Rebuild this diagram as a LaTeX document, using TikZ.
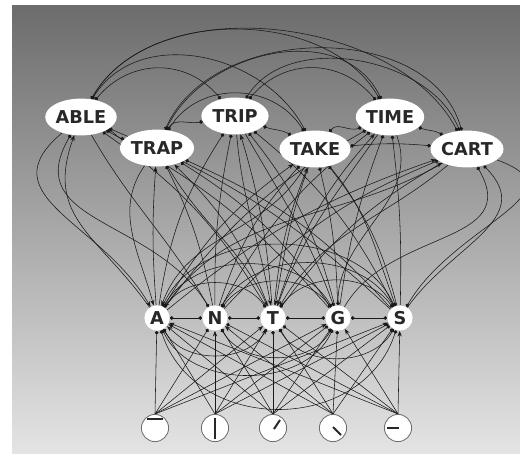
\documentclass[tikz,border=0pt]{standalone}
\usepackage{fontspec}
\setsansfont{DejaVu Sans}
\usetikzlibrary{arrows.meta,shapes.geometric}
\pgfdeclarelayer{back}
\pgfdeclarelayer{wires}
\pgfsetlayers{back,wires,main}
\definecolor{bg_top}{RGB}{108,108,108}
\definecolor{bg_bot}{RGB}{228,228,228}
\definecolor{edge_dark}{RGB}{25,25,25}
\definecolor{rim_gray}{RGB}{110,110,110}
\definecolor{ink_gray}{RGB}{40,40,40}

\begin{document}
\begin{tikzpicture}[x=0.025cm,y=-0.025cm,line width=0.6pt]
    \tikzstyle{word}=[ellipse, fill=white, minimum width=1.68cm, minimum height=0.92cm, inner sep=0pt, text=ink_gray, font=\sffamily\bfseries\fontsize{12.6}{13}\selectfont]
    \tikzstyle{letter}=[circle, fill=white, minimum size=0.63cm, inner sep=0pt, text=ink_gray, font=\sffamily\bfseries\fontsize{12.6}{13}\selectfont]
    \tikzstyle{feat}=[circle, fill=white, draw=rim_gray, line width=0.6pt, minimum size=0.68cm, inner sep=0pt]
    \tikzstyle{bar}=[draw=ink_gray, line width=1.4pt]
    \tikzstyle{wire}=[draw=edge_dark]
    \tikzstyle{exc}=[wire, -{Stealth[length=4pt,width=3pt]}]
    \tikzstyle{inh}=[wire, -{Circle[length=2.6pt]}]
    \tikzstyle{mutual}=[wire, {Circle[length=2.6pt]}-{Circle[length=2.6pt]}]

    \useasboundingbox (0,0) rectangle (520,455);
    \begin{pgfonlayer}{back}
      \fill[white] (0,0) rectangle (520,455);
      \shade[top color=bg_top, bottom color=bg_bot] (12,5) rectangle (520,453);
    \end{pgfonlayer}

    % word level
    \node[word] (able) at (81,117)  {ABLE};
    \node[word] (trap) at (157,148) {TRAP};
    \node[word] (trip) at (235,116) {TRIP};
    \node[word] (take) at (315,149) {TAKE};
    \node[word] (time) at (390,117) {TIME};
    \node[word] (cart) at (467,149) {CART};

    % letter level
    \node[letter] (lA) at (157,318) {A};
    \node[letter] (lN) at (215,318) {N};
    \node[letter] (lT) at (273,318) {T};
    \node[letter] (lG) at (338,318) {G};
    \node[letter] (lS) at (400,318) {S};

    % feature level
    \node[feat] (f1) at (155,428) {};
    \node[feat] (f2) at (215,428) {};
    \node[feat] (f3) at (273,428) {};
    \node[feat] (f4) at (333,428) {};
    \node[feat] (f5) at (398,428) {};
    \draw[bar] ([shift={(-8,-8.7)}]f1.center) -- ([shift={(8,-8.7)}]f1.center);
    \draw[bar] ([shift={(0,-10.5)}]f2.center) -- ([shift={(0,10.5)}]f2.center);
    \draw[bar] ([shift={(1,1)}]f3.center) -- ([shift={(7,-8)}]f3.center);
    \draw[bar] ([shift={(0,-1)}]f4.center) -- ([shift={(8,7)}]f4.center);
    \draw[bar] ([shift={(-11,0)}]f5.center) -- ([shift={(1,0)}]f5.center);

    \begin{pgfonlayer}{wires}
    % word <-> word
    \path
     (able) edge[mutual,out=-25,in=165] (trap)
     (able) edge[mutual,out=50,in=130,looseness=1.1] (trip)
     (able) edge[mutual,out=58,in=118,looseness=1.05] (take)
     (able) edge[mutual,out=60,in=120,looseness=0.95] (time)
     (able) edge[mutual,out=60,in=118,looseness=0.9] (cart)
     (trap) edge[mutual,out=60,in=190] (trip)
     (trap) edge[mutual,out=58,in=122,looseness=1.1] (take)
     (trap) edge[mutual,out=64,in=116,looseness=1.05] (time)
     (trap) edge[mutual,out=66,in=106] (cart)
     (trip) edge[mutual,out=-20,in=150] (take)
     (trip) edge[mutual,out=50,in=130,looseness=1.1] (time)
     (trip) edge[mutual,out=58,in=112,looseness=0.95] (cart)
     (take) edge[mutual,out=50,in=200] (time)
     (take) edge[mutual,out=5,in=175] (cart)
     (time) edge[mutual,out=-20,in=150] (cart)
     ;
    % letter <-> letter
    \path
     (lA) edge[mutual] (lN)
     (lN) edge[mutual] (lT)
     (lT) edge[mutual] (lG)
     (lG) edge[mutual] (lS)
     (lA) edge[mutual,out=55,in=125] (lT)
     (lN) edge[mutual,out=55,in=125] (lG)
     (lT) edge[mutual,out=55,in=125] (lS)
     (lA) edge[mutual,out=60,in=120] (lG)
     (lN) edge[mutual,out=60,in=120] (lS)
     (lA) edge[mutual,out=65,in=115] (lS)
     (lA) edge[mutual,out=-60,in=-120] (lT)
     (lN) edge[mutual,out=-60,in=-120] (lG)
     (lT) edge[mutual,out=-60,in=-120] (lS)
     (lA) edge[mutual,out=-65,in=-115] (lG)
     (lA) edge[mutual,out=-72,in=-108,looseness=1.2] (lS)
     ;
    % letter -> word
    \path
     (lA) edge[exc,out=125,in=250,looseness=1.2] (able)
     (lA) edge[exc,bend left=4]   (trap)
     (lA) edge[inh,bend left=12]  (trip)
     (lA) edge[exc,bend left=12]  (take)
     (lA) edge[inh,bend left=12]  (time)
     (lA) edge[exc,bend left=10]  (cart)
     (lN) edge[inh,out=120,in=240,looseness=1.2] (able)
     (lN) edge[inh,bend right=8]  (trap)
     (lN) edge[inh,bend left=6]   (trip)
     (lN) edge[inh,bend left=12]  (take)
     (lN) edge[inh,bend left=12]  (time)
     (lN) edge[inh,bend left=12]  (cart)
     (lT) edge[inh,bend right=12] (able)
     (lT) edge[exc,bend right=12] (trap)
     (lT) edge[exc,bend right=6]  (trip)
     (lT) edge[exc,bend left=8]   (take)
     (lT) edge[exc,bend left=12]  (time)
     (lT) edge[exc,bend left=12]  (cart)
     (lG) edge[inh,bend right=10] (able)
     (lG) edge[inh,bend right=12] (trap)
     (lG) edge[inh,bend right=12] (trip)
     (lG) edge[inh,bend right=6]  (take)
     (lG) edge[inh,bend left=6]   (time)
     (lG) edge[inh,out=60,in=-60,looseness=1.2] (cart)
     (lS) edge[inh,bend right=10] (able)
     (lS) edge[inh,bend right=12] (trap)
     (lS) edge[inh,bend right=12] (trip)
     (lS) edge[inh,bend right=12] (take)
     (lS) edge[inh,bend right=4]  (time)
     (lS) edge[inh,out=55,in=-45,looseness=1.2] (cart)
     ;
    % word -> letter
    \path
     (able) edge[exc,out=220,in=120,looseness=1.3] (lA)
     (trap) edge[exc,out=235,in=105] (lA)
     (take) edge[exc,out=-120,in=70] (lA)
     (cart) edge[exc,out=-150,in=55] (lA)
     (trap) edge[exc,out=-60,in=115] (lT)
     (trip) edge[exc,out=-85,in=100] (lT)
     (take) edge[exc,out=-110,in=80] (lT)
     (time) edge[exc,out=-125,in=70] (lT)
     (cart) edge[exc,out=-140,in=60] (lT)
     (able) edge[inh,out=-60,in=120] (lN)
     (trip) edge[inh,out=-60,in=110] (lG)
     (time) edge[inh,out=-70,in=90] (lG)
     (take) edge[inh,out=-50,in=110] (lS)
     (cart) edge[inh,out=-20,in=60,looseness=1.4] (lS)
     ;
    % feature -> letter
    \path
     (f1.north) edge[inh] (lA)
     (f1.north) edge[inh] (lN)
     (f1.north) edge[exc] (lT)
     (f1.north) edge[exc] (lG)
     (f1.north) edge[exc] (lS)
     (f2.north) edge[inh] (lA)
     (f2.north) edge[exc] (lN)
     (f2.north) edge[exc] (lT)
     (f2.north) edge[inh] (lG)
     (f2.north) edge[inh] (lS)
     (f3.north) edge[exc] (lA)
     (f3.north) edge[inh] (lN)
     (f3.north) edge[inh] (lT)
     (f3.north) edge[inh] (lG)
     (f3.north) edge[inh] (lS)
     (f4.north) edge[exc] (lA)
     (f4.north) edge[exc] (lN)
     (f4.north) edge[inh] (lT)
     (f4.north) edge[inh] (lG)
     (f4.north) edge[inh] (lS)
     (f5.north) edge[exc] (lA)
     (f5.north) edge[inh] (lN)
     (f5.north) edge[inh] (lT)
     (f5.north) edge[exc] (lG)
     (f5.north) edge[exc] (lS)
     ;
    \end{pgfonlayer}
\end{tikzpicture}
\end{document}
